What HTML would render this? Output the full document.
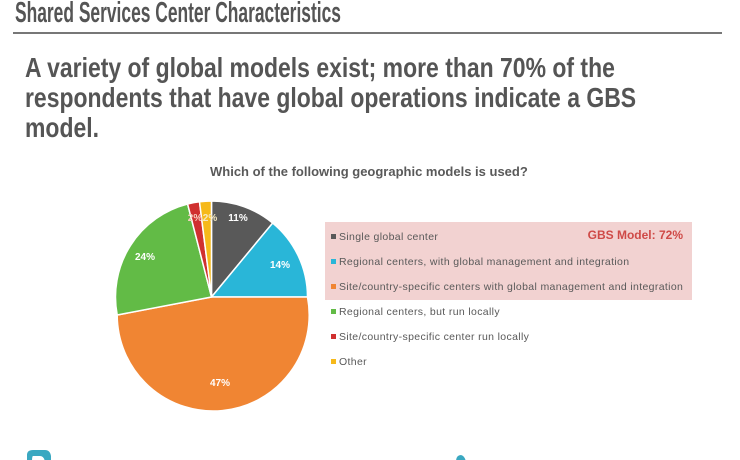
<!DOCTYPE html>
<html><head><meta charset="utf-8"><style>
body{margin:0;width:740px;height:460px;background:#fff;overflow:hidden;position:relative;font-family:"Liberation Sans",Arial,sans-serif}
.n{font-family:"Liberation Sans",sans-serif;font-weight:bold;position:absolute;white-space:nowrap;transform-origin:0 0}
</style></head><body>
<div class="n" style="left:15px;top:-3px;font-size:29px;color:#555;transform:scaleX(0.6)">Shared Services Center Characteristics</div>
<div style="position:absolute;left:13px;top:32px;width:709px;height:2px;background:#777"></div>
<div class="n" style="left:25px;top:53px;font-size:28px;line-height:30px;color:#555;transform:scaleX(0.82)">A variety of global models exist; more than 70% of the<br>respondents that have global operations indicate a GBS<br>model.</div>
<div class="n" style="left:210px;top:165px;font-size:12.5px;color:#595959;transform:scaleX(1.04)">Which of the following geographic models is used?</div>
<svg width="740" height="460" style="position:absolute;left:0;top:0">
<g stroke="#fff" stroke-width="1.5">
<path d="M211.5,297 L211.5,201 A96,96 0 0 1 272.7,223 Z" fill="#595959"/>
<path d="M211.5,297 L272.7,223 A96,96 0 0 1 307.5,297 Z" fill="#29b6d8"/>
<path d="M211.5,297 L307.5,297 A96,96 0 1 1 117.2,315 Z" fill="#f08533"/>
<path d="M211.5,297 L117.2,315 A96,96 0 0 1 187.6,204 Z" fill="#62bb46"/>
<path d="M211.5,297 L187.6,204 A96,96 0 0 1 199.5,201.8 Z" fill="#d0302f"/>
<path d="M211.5,297 L199.5,201.8 A96,96 0 0 1 211.5,201 Z" fill="#f6b91a"/>
</g>
<g font-family="Liberation Sans,sans-serif" font-size="10" font-weight="bold" fill="#fff" text-anchor="middle">
<text x="238" y="221">11%</text><text x="280" y="268">14%</text><text x="220" y="386">47%</text><text x="145" y="260">24%</text><text x="195" y="221" fill="#f5d0c0">2%</text><text x="210" y="221" fill="#f5e8c0">2%</text>
</g>
<rect x="325" y="222" width="367" height="78" fill="#f2d2d1"/>
<text x="683" y="239" text-anchor="end" font-family="Liberation Sans,sans-serif" font-size="12" font-weight="bold" fill="#cf4a47">GBS Model: 72%</text>
<g font-family="Liberation Sans,sans-serif" font-size="10.5" letter-spacing="0.35" fill="#595959">
<rect x="331" y="234" width="5" height="5" fill="#595959"/><text x="339" y="240">Single global center</text>
<rect x="331" y="259" width="5" height="5" fill="#29b6d8"/><text x="339" y="265">Regional centers, with global management and integration</text>
<rect x="331" y="284" width="5" height="5" fill="#f08533"/><text x="339" y="290">Site/country-specific centers with global management and integration</text>
<rect x="331" y="309" width="5" height="5" fill="#62bb46"/><text x="339" y="315">Regional centers, but run locally</text>
<rect x="331" y="334" width="5" height="5" fill="#d0302f"/><text x="339" y="340">Site/country-specific center run locally</text>
<rect x="331" y="359" width="5" height="5" fill="#f6b91a"/><text x="339" y="365">Other</text>
</g>
<path d="M27,462 L27,455 Q27,450 33,450 L45,450 Q50,450 51,456 L51,462 L45,462 Q44,456 40,456 L33,456 Q32,456 32,462 Z" fill="#3aa8c1"/>
<path d="M456,462 Q456,455 461,455 Q465,456 466,462 Z" fill="#3aa8c1"/>
</svg>
</body></html>
